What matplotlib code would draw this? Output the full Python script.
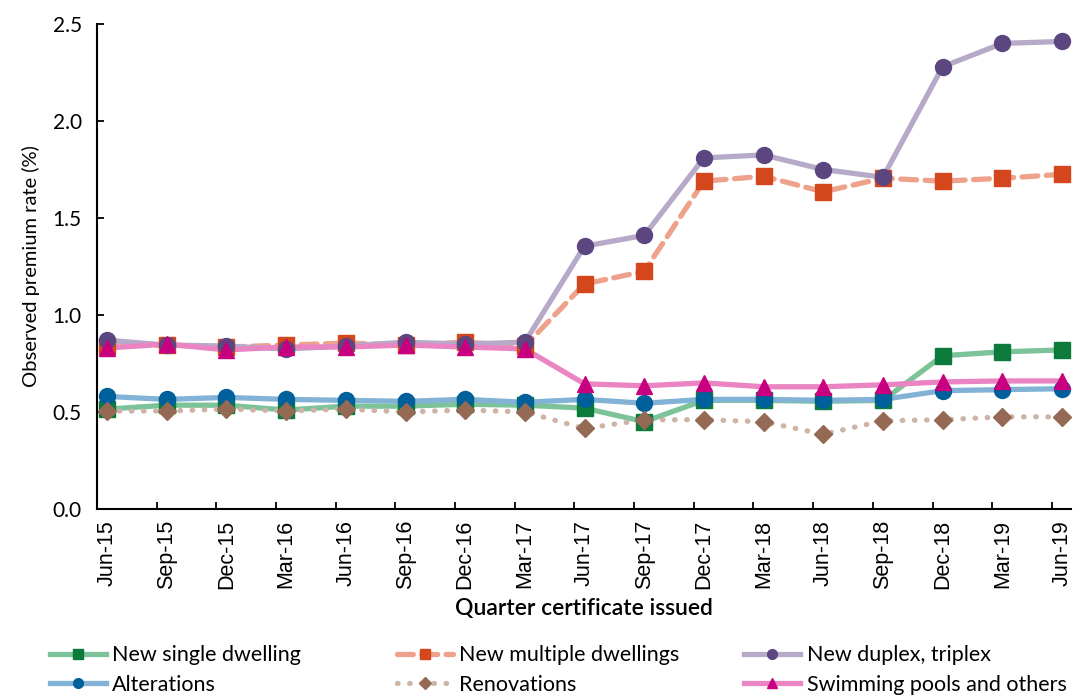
import matplotlib.pyplot as plt
from matplotlib.lines import Line2D

quarters = ["Jun-15", "Sep-15", "Dec-15", "Mar-16", "Jun-16", "Sep-16", "Dec-16", "Mar-17",
            "Jun-17", "Sep-17", "Dec-17", "Mar-18", "Jun-18", "Sep-18", "Dec-18", "Mar-19", "Jun-19"]

new_single = [0.515, 0.535, 0.535, 0.51, 0.53, 0.53, 0.54, 0.535,
              0.52, 0.45, 0.56, 0.56, 0.555, 0.56, 0.79, 0.81, 0.82]
new_multiple = [0.84, 0.845, 0.835, 0.845, 0.855, 0.845, 0.86, 0.84,
                1.16, 1.225, 1.69, 1.715, 1.635, 1.705, 1.69, 1.705, 1.725]
new_duplex = [0.87, 0.845, 0.84, 0.825, 0.84, 0.86, 0.85, 0.86,
              1.355, 1.41, 1.81, 1.825, 1.75, 1.71, 2.28, 2.40, 2.41]
alterations = [0.58, 0.565, 0.575, 0.565, 0.56, 0.555, 0.565, 0.55,
               0.565, 0.545, 0.565, 0.565, 0.56, 0.565, 0.61, 0.615, 0.62]
renovations = [0.505, 0.505, 0.515, 0.505, 0.515, 0.5, 0.51, 0.5,
               0.415, 0.46, 0.46, 0.45, 0.385, 0.455, 0.46, 0.475, 0.475]
pools = [0.83, 0.85, 0.82, 0.835, 0.835, 0.845, 0.835, 0.825,
         0.645, 0.635, 0.65, 0.63, 0.63, 0.64, 0.655, 0.66, 0.66]

# name, values, line colour, marker colour, marker, line style
series = [
    ("New single dwelling", new_single, "#7cc39a", "#0b7a3a", "s", "-"),
    ("New multiple dwellings", new_multiple, "#eea28c", "#d4461b", "s", (0, (3, 1.6))),
    ("New duplex, triplex", new_duplex, "#b6aac8", "#5b4680", "o", "-"),
    ("Alterations", alterations, "#82b3d6", "#00609c", "o", "-"),
    ("Renovations", renovations, "#cdb4a6", "#946a54", "D", (0, (0.1, 2.2))),
    ("Swimming pools and others", pools, "#ea84c3", "#c8007f", "^", "-"),
]

fig = plt.figure(figsize=(10.82, 6.98), dpi=100)
ax = fig.add_axes([0.0896, 0.2708, 0.9002, 0.6948])

x = list(range(len(quarters)))
handles = []
for name, vals, lc, mc, mk, ls in series:
    ax.plot(x, vals, color=lc, lw=3.8, ls=ls, solid_capstyle="round",
            dash_capstyle="round", zorder=2)
    ms = 9.5 if mk == "D" else 11.5
    ax.plot(x, vals, ls="none", marker=mk, ms=ms, color=mc, zorder=3)
    handles.append(Line2D([], [], color=lc, lw=3.8, ls=ls, dash_capstyle="round",
                          marker=mk, ms=7 if mk != "D" else 6, markerfacecolor=mc,
                          markeredgecolor=mc, label=name))

ax.set_xlim(-0.17, 16.15)
ax.set_ylim(0, 2.5)
ax.set_yticks([0, 0.5, 1.0, 1.5, 2.0, 2.5])
ax.set_yticklabels(["0.0", "0.5", "1.0", "1.5", "2.0", "2.5"], family="Lato", fontsize=15)
ax.set_xticks(x)
ax.set_xticklabels(quarters, rotation=90, family="Liberation Sans", fontsize=15.5)
ax.tick_params(axis="x", which="major", length=0, pad=8)
ax.set_xticks([i - 0.17 for i in range(1, 17)], minor=True)
ax.tick_params(axis="x", which="minor", direction="in", length=5, width=1.3)
ax.tick_params(axis="y", direction="in", length=5, width=1.3, pad=11)

for side in ("top", "right"):
    ax.spines[side].set_visible(False)
for side in ("left", "bottom"):
    ax.spines[side].set_linewidth(1.5)

ax.set_ylabel("Observed premium rate (%)", family="Lato", fontsize=14.5, labelpad=9)
ax.set_xlabel("Quarter certificate issued", family="Lato", fontsize=16.5,
              fontweight="semibold", labelpad=6)

# legend: three columns of two entries each
for col, xpos in enumerate([0.038, 0.359, 0.680]):
    fig.legend(handles=[handles[col], handles[col + 3]], loc="upper left",
               bbox_to_anchor=(xpos, 0.088), frameon=False, handlelength=2.6,
               handletextpad=0.3, labelspacing=0.45, borderaxespad=0,
               prop={"family": "Lato", "size": 15.5})

fig.savefig("out.png", dpi=100)
